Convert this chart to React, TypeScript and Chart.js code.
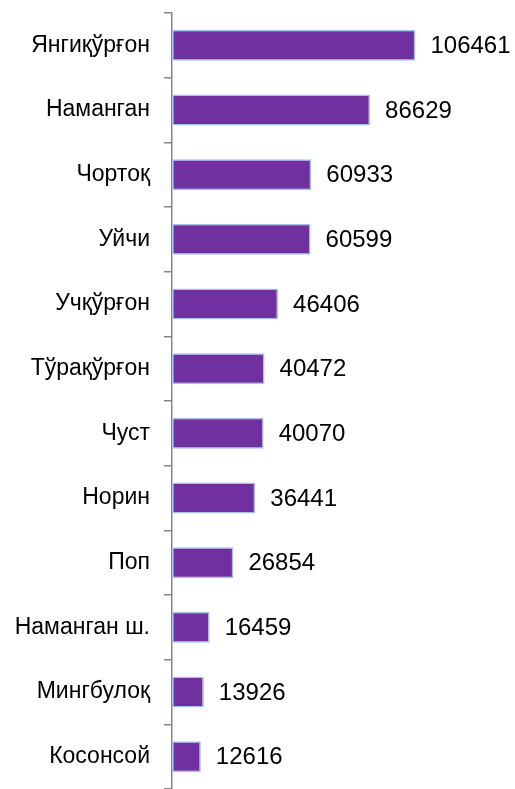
import React, { useEffect, useRef } from "react";
import { Chart, registerables } from "chart.js";

Chart.register(...registerables);

const categories = [
  "Янгиқўрғон",
  "Наманган",
  "Чортоқ",
  "Уйчи",
  "Учқўрғон",
  "Тўрақўрғон",
  "Чуст",
  "Норин",
  "Поп",
  "Наманган ш.",
  "Мингбулоқ",
  "Косонсой",
];

const values = [106461, 86629, 60933, 60599, 46406, 40472, 40070, 36441, 26854, 16459, 13926, 12616];

const xMax = 150000;

const valueLabels = {
  id: "valueLabels",
  afterDatasetsDraw(chart: any) {
    const ctx = chart.ctx;
    const meta = chart.getDatasetMeta(0);
    ctx.save();
    ctx.fillStyle = "#000000";
    ctx.font = "24px 'Liberation Sans', Arial, sans-serif";
    ctx.textAlign = "left";
    ctx.textBaseline = "middle";
    meta.data.forEach((bar: any, i: number) => {
      ctx.fillText(String(values[i]), bar.x + 15, bar.y + 1);
    });
    ctx.restore();
  },
};

export default function App() {
  const ref = useRef<HTMLCanvasElement | null>(null);

  useEffect(() => {
    if (!ref.current) return;
    const chart = new Chart(ref.current, {
      type: "bar",
      data: {
        labels: categories,
        datasets: [
          {
            data: values,
            backgroundColor: "#7030a0",
            borderColor: "#a9c1ea",
            borderWidth: 1.5,
            borderSkipped: false,
            barPercentage: 0.48,
            categoryPercentage: 1,
          },
        ],
      },
      options: {
        indexAxis: "y",
        animation: false,
        responsive: false,
        maintainAspectRatio: false,
        layout: { padding: { top: 13, bottom: 0, left: 0, right: 0 } },
        plugins: {
          legend: { display: false },
          tooltip: { enabled: false },
        },
        scales: {
          x: {
            display: false,
            min: 0,
            max: xMax,
          },
          y: {
            offset: true,
            afterFit(scale: any) {
              scale.width = 172;
              scale.paddingTop = 0;
              scale.paddingBottom = 0;
            },
            grid: {
              display: true,
              drawOnChartArea: false,
              drawTicks: true,
              tickLength: 8,
              color: "#868686",
              lineWidth: 1.5,
              offset: true,
            },
            border: { display: true, color: "#868686", width: 1.5 },
            ticks: {
              color: "#000000",
              padding: 14,
              font: { family: "'Liberation Sans', Arial, sans-serif", size: 23 },
            },
          },
        },
      },
      plugins: [valueLabels],
    });
    return () => chart.destroy();
  }, []);

  return (
    <div style={{ position: "absolute", left: 0, top: 0, width: 515, height: 789 }}>
      <canvas ref={ref} width={515} height={789} style={{ width: 515, height: 789 }} />
    </div>
  );
}
